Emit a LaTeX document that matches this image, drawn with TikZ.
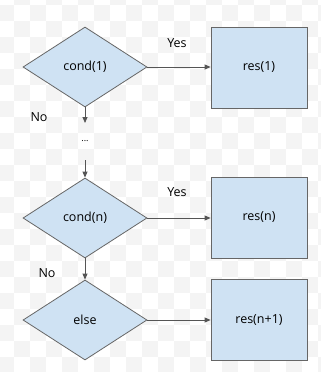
\documentclass[tikz,border=0pt]{standalone}
\usepackage{fontspec}
\setmainfont{Open Sans}
\usetikzlibrary{shapes.geometric,arrows.meta}
\definecolor{boxfill}{HTML}{CFE2F3}
\definecolor{boxline}{HTML}{666666}
\definecolor{checkgray}{HTML}{F4F4F4}
\definecolor{arrowline}{HTML}{555555}
\begin{document}
\begin{tikzpicture}[x=1pt,y=-1pt,
  font=\fontsize{12.5}{14}\selectfont,
  decision/.style={diamond, draw=boxline, fill=boxfill, line width=0.8pt,
    minimum width=124pt, minimum height=80pt, shape aspect=1.55, inner sep=0pt},
  result/.style={rectangle, draw=boxline, fill=boxfill, line width=0.8pt,
    minimum width=96pt, minimum height=81pt, inner sep=0pt},
  flow/.style={draw=arrowline, line width=0.8pt, -{Triangle[length=6pt,width=5pt]}},
  lbl/.style={inner sep=0pt, text=black}]
\useasboundingbox (0,0) rectangle (321,372);
\fill[white] (0,0) rectangle (321,372);
% checkerboard background
\foreach \i in {0,...,20}{
  \foreach \j in {0,...,24}{
    \pgfmathtruncatemacro{\parity}{mod(\i+\j,2)}
    \ifnum\parity=1
      \fill[checkgray] (-2+16*\i,-11+16*\j) rectangle (14+16*\i,5+16*\j);
    \fi
  }
}
% nodes
\node[decision] (d1) at (85,67) {cond(1)};
\node[decision] (d2) at (85,218) {cond(n)};
\node[decision] (d3) at (85,320) {else};
\node[result] (r1) at (259,67.5) {res(1)};
\node[result] (r2) at (259,217.5) {res(n)};
\node[result] (r3) at (259,320) {res(n+1)};
\node[lbl, font=\fontsize{9}{10}\selectfont] (dots) at (85,141) {...};
\coordinate (a1) at (85,123);
\coordinate (a2) at (85,160);
% labels
\node[lbl] (y1) at (177,43) {Yes};
\node[lbl] (y2) at (177,192) {Yes};
\node[lbl] (n1) at (39,117) {No};
\node[lbl] (n2) at (47,273) {No};
% connectors
\draw[flow] (d1.east) -- (r1.west |- d1.east);
\draw[flow] (d2.east) -- (r2.west |- d2.east);
\draw[flow] (d3.east) -- (r3.west |- d3.east);
\draw[flow] (d1.south) -- (a1);
\draw[flow] (a2) -- (d2.north);
\draw[flow] (d2.south) -- (d3.north);
\end{tikzpicture}
\end{document}
